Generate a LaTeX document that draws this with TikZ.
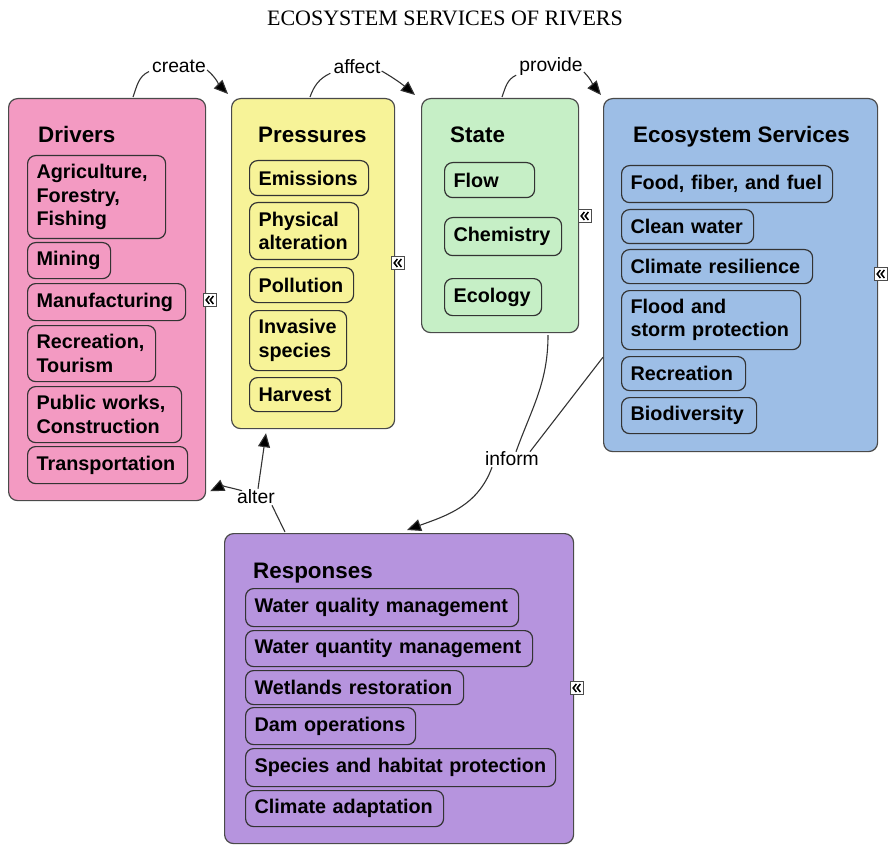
\documentclass[tikz,border=0pt]{standalone}
\usepackage{fontspec}
\setmainfont{Liberation Sans}
\newfontfamily\titlefont{Liberation Serif}
\usetikzlibrary{calc,arrows.meta}

\definecolor{edge}{HTML}{4A4A4A}
\definecolor{linec}{HTML}{333333}
\definecolor{pinkc}{HTML}{F39AC2}
\definecolor{yellowc}{HTML}{F7F398}
\definecolor{greenc}{HTML}{C6EFC6}
\definecolor{bluec}{HTML}{9DBEE6}
\definecolor{purplec}{HTML}{B694DE}

\tikzset{
  panel/.style={draw=edge, line width=1.2pt, rounded corners=9pt, anchor=north west, inner sep=0pt},
  item/.style={draw=linec, line width=1.2pt, rounded corners=8pt, anchor=north west,
    align=left, inner xsep=9pt, inner ysep=0pt,
    font=\bfseries\fontsize{19.8}{23.5}\selectfont},
  head/.style={anchor=base west, inner sep=0pt, font=\bfseries\fontsize{22.4}{26}\selectfont},
  lab/.style={inner sep=1pt, font=\fontsize{19.3}{21}\selectfont},
  collapse/.style={draw=gray!60!black, fill=white, line width=0.8pt, minimum size=13pt, inner sep=0pt},
  chev/.style={draw=black, line width=1.5pt},
  conn/.style={draw=linec, line width=1.1pt},
  tip/.style={conn, -{Triangle[length=14pt,width=12pt,fill=black]}},
}

% panel: name, x1, y1, x2, y2, fill
\newcommand\panelbox[6]{%
  \pgfmathsetmacro\pw{#4-#2}\pgfmathsetmacro\ph{#5-#3}%
  \node[panel, fill=#6, minimum width=\pw pt, minimum height=\ph pt] (#1) at (#2,#3) {};}
% item: name, x1, y1, x2, y2, text
\newcommand\itembox[6]{%
  \pgfmathsetmacro\iw{#4-#2}\pgfmathsetmacro\ih{#5-#3}\pgfmathsetmacro\itw{#4-#2-18}%
  \node[item, minimum width=\iw pt, minimum height=\ih pt, text width=\itw pt] (#1) at (#2,#3) {#6};}
% collapse marker: name, x, y
\newcommand\collapseicon[3]{%
  \node[collapse] (#1) at (#2,#3) {};
  \draw[chev] ($(#1.center)+(-0.6,-4)$) -- ($(#1.center)+(-3.8,0)$) -- ($(#1.center)+(-0.6,4)$);
  \draw[chev] ($(#1.center)+(3.4,-4)$) -- ($(#1.center)+(0.2,0)$) -- ($(#1.center)+(3.4,4)$);}

\begin{document}
\begin{tikzpicture}[x=1pt, y=-1pt]
\useasboundingbox (0,0) rectangle (889,845);

\node[font=\titlefont\fontsize{22}{24}\selectfont] (title) at (445,18) {ECOSYSTEM SERVICES OF RIVERS};

% panels
\panelbox{drivers}{8}{98}{205}{500}{pinkc}
\panelbox{pressures}{231}{98}{394}{428}{yellowc}
\panelbox{state}{421}{98}{578}{332}{greenc}
\panelbox{es}{603}{98}{877}{451}{bluec}
\panelbox{responses}{224}{533}{573}{843}{purplec}

% headings
\node[head] (drvT) at (38,143) {Drivers};
\node[head] (preT) at (258,143) {Pressures};
\node[head] (staT) at (450,143) {State};
\node[head] (esT) at (633,143) {Ecosystem Services};
\node[head] (resT) at (253,578) {Responses};

% drivers
\itembox{d1}{27}{155}{165}{238}{Agriculture,\\Forestry,\\Fishing}
\itembox{d2}{27}{242}{110}{278}{Mining}
\itembox{d3}{27}{283}{185}{320}{Manufacturing}
\itembox{d4}{27}{325}{155}{381}{Recreation,\\Tourism}
\itembox{d5}{27}{386}{181}{442}{Public~works,\\Construction}
\itembox{d6}{27}{446}{187}{483}{Transportation}

% pressures
\itembox{p1}{249}{160}{368}{195}{Emissions}
\itembox{p2}{249}{202}{358}{259}{Physical\\alteration}
\itembox{p3}{249}{267}{353}{302}{Pollution}
\itembox{p4}{249}{310}{346}{370}{Invasive\\species}
\itembox{p5}{249}{377}{341}{411}{Harvest}

% state
\itembox{s1}{444}{162}{534}{197}{Flow}
\itembox{s2}{444}{217}{561}{255}{Chemistry}
\itembox{s3}{444}{278}{541}{315}{Ecology}

% ecosystem services
\itembox{e1}{621}{165}{832}{202}{Food,~fiber,~and~fuel}
\itembox{e2}{621}{209}{753}{243}{Clean~water}
\itembox{e3}{621}{249}{812}{283}{Climate~resilience}
\itembox{e4}{621}{290}{800}{349}{Flood~and\\storm~protection}
\itembox{e5}{621}{356}{745}{390}{Recreation}
\itembox{e6}{621}{397}{756}{433}{Biodiversity}

% responses
\itembox{r1}{245}{588}{518}{626}{Water~quality~management}
\itembox{r2}{245}{630}{532}{666}{Water~quantity~management}
\itembox{r3}{245}{670}{463}{704}{Wetlands~restoration}
\itembox{r4}{245}{707}{415}{744}{Dam~operations}
\itembox{r5}{245}{748}{555}{786}{Species~and~habitat~protection}
\itembox{r6}{245}{790}{443}{826}{Climate~adaptation}

% collapse markers
\collapseicon{drvC}{210}{300}
\collapseicon{preC}{398}{263}
\collapseicon{staC}{585}{216}
\collapseicon{esC}{881}{274}
\collapseicon{resC}{577}{688}

% relation labels
\node[lab] (create) at (179,66) {create};
\node[lab] (affect) at (357,67) {affect};
\node[lab] (provide) at (551,67) {provide};
\node[lab] (inform) at (512,459) {inform};
\node[lab] (alter) at (256,497) {alter};

% create
\draw[conn] ($(drivers.north west)+(125,-1)$) to[out=70,in=-155] ($(create.south west)+(-2,-2)$);
\draw[tip] ($(create.east)+(0,4)$) to[out=-40,in=135] ($(pressures.north west)+(-3,-4)$);
% affect
\draw[conn] ($(pressures.north west)+(79,-1)$) to[out=70,in=-155] ($(affect.south west)+(-2,-2)$);
\draw[tip] ($(affect.east)+(0,4)$) to[out=-30,in=140] ($(state.north west)+(-6,-3)$);
% provide
\draw[conn] ($(state.north west)+(81,-1)$) to[out=70,in=-155] ($(provide.south west)+(-2,-2)$);
\draw[tip] ($(provide.east)+(0,5)$) to[out=-45,in=130] ($(es.north west)+(-2,-3)$);
% inform
\draw[conn] ($(state.south west)+(127,2)$) to[out=-90,in=70] ($(inform.north)+(4,1)$);
\draw[conn] ($(es.south west)+(0,-95)$) -- ($(inform.north)+(18,1)$);
\draw[tip] ($(inform.south west)+(8,0)$) to[out=-110,in=20] ($(responses.north west)+(183,-3)$);
% alter
\draw[conn] ($(responses.north west)+(61,-1)$) -- ($(alter.south east)+(-4,0)$);
\draw[tip] ($(alter.north)+(2,0)$) -- ($(pressures.south west)+(35,4)$);
\draw[tip] ($(alter.north west)+(6,2)$) to[out=165,in=25] ($(drivers.south east)+(4,-10)$);
\end{tikzpicture}
\end{document}
